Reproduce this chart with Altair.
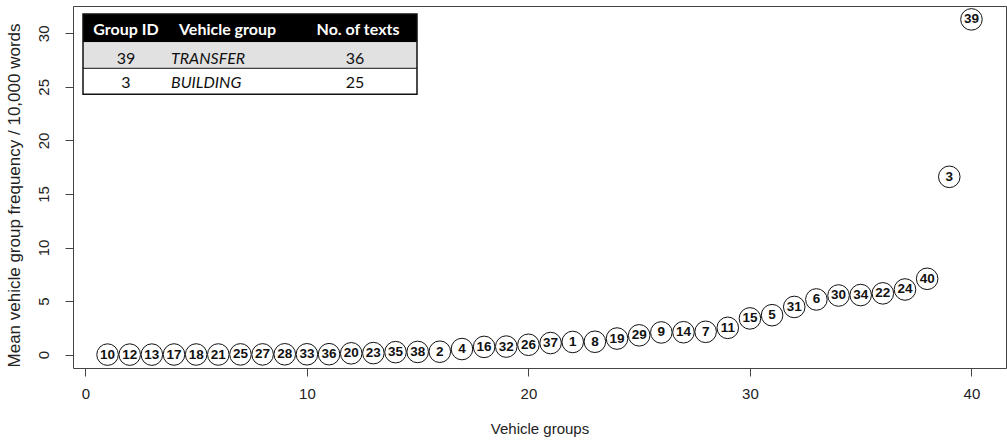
import altair as alt
import pandas as pd

# Vehicle groups ranked by mean frequency (rank 1 = lowest)
ranks = list(range(1, 41))
group_ids = [10, 12, 13, 17, 18, 21, 25, 27, 28, 33, 36, 20, 23, 35, 38, 2, 4, 16, 32, 26,
             37, 1, 8, 19, 29, 9, 14, 7, 11, 15, 5, 31, 6, 30, 34, 22, 24, 40, 3, 39]
mean_freq = [0.0, 0.0, 0.0, 0.01, 0.01, 0.01, 0.02, 0.02, 0.03, 0.03, 0.04, 0.12, 0.14, 0.23,
             0.25, 0.27, 0.52, 0.72, 0.75, 0.92, 1.08, 1.18, 1.2, 1.5, 1.8, 2.07, 2.09, 2.13,
             2.5, 3.38, 3.68, 4.45, 5.15, 5.52, 5.56, 5.72, 6.08, 7.08, 16.6, 31.3]

# Inset table contents
table_header = ["Group ID", "Vehicle group", "No. of texts"]
table_ids = ["39", "3"]
table_groups = ["TRANSFER", "BUILDING"]
table_counts = ["36", "25"]

x_ticks = [0, 10, 20, 30, 40]
y_ticks = [0, 5, 10, 15, 20, 25, 30]

W, H = 933, 362
AXIS_FONT = "Liberation Sans"
TABLE_FONT = "Lato"
INK = "#222222"
LINE = "#444444"

df = pd.DataFrame({"rank": ranks, "freq": mean_freq, "gid": [str(g) for g in group_ids]})

x_enc = alt.X(
    "rank:Q",
    scale=alt.Scale(domain=[-0.56, 41.56], nice=False, zero=False),
    axis=alt.Axis(
        values=x_ticks, grid=False, domain=False, tickSize=8, tickColor=LINE,
        labelFont=AXIS_FONT, labelFontSize=15, labelColor=INK, labelPadding=17,
        labelBaseline="middle", labelFlush=False, labelOverlap=False,
        title="Vehicle groups", titleFont=AXIS_FONT, titleFontSize=15,
        titleFontWeight="normal", titleColor=INK, titleX=W / 2, titleY=60,
        titleBaseline="middle", titleAlign="center",
    ),
)
y_enc = alt.Y(
    "freq:Q",
    scale=alt.Scale(domain=[-1.25, 32.55], nice=False, zero=False),
    axis=alt.Axis(
        values=y_ticks, grid=False, domain=False, tickSize=8, tickColor=LINE,
        labelFont=AXIS_FONT, labelFontSize=15, labelColor=INK, labelAngle=270,
        labelAlign="center", labelBaseline="middle", labelPadding=22,
        labelFlush=False, labelOverlap=False,
        title="Mean vehicle group frequency / 10,000 words", titleFont=AXIS_FONT,
        titleFontSize=17, titleFontWeight="normal", titleColor=INK, titleAngle=270,
        titleX=-59, titleY=H / 2 + 8, titleBaseline="middle", titleAlign="center",
    ),
)

base = alt.Chart(df).encode(x=x_enc, y=y_enc)
circles = base.mark_circle(size=465, color="white", stroke="#111111",
                           strokeWidth=1, opacity=1)
labels = base.mark_text(font=AXIS_FONT, fontWeight="bold", fontSize=13.5,
                        color="#111111", align="center", baseline="middle").encode(
    text="gid:N")

# ---- inset table (pixel layout inside the plot area) ----
one = pd.DataFrame({"k": [0]})
TX0, TX1 = 10, 344
ROW_Y = [8, 36.3, 62.3, 88.3]


def cell_rect(y0, y1, fill):
    return alt.Chart(one).mark_rect(fill=fill, strokeWidth=0).encode(
        x=alt.value(TX0), x2=alt.value(TX1), y=alt.value(y0), y2=alt.value(y1))


def hline(y):
    return alt.Chart(one).mark_rule(color="#111111", strokeWidth=1).encode(
        x=alt.value(TX0), x2=alt.value(TX1), y=alt.value(y))


def cell_text(text, x, y, align, color="#111111", weight="normal", style="normal"):
    return alt.Chart(pd.DataFrame({"t": [text]})).mark_text(
        font=TABLE_FONT, fontSize=16, color=color, fontWeight=weight,
        fontStyle=style, align=align, baseline="middle").encode(
        x=alt.value(x), y=alt.value(y), text="t:N")


table_layers = [
    cell_rect(ROW_Y[0], ROW_Y[1], "#000000"),
    cell_rect(ROW_Y[1], ROW_Y[2], "#e1e1e1"),
    cell_rect(ROW_Y[2], ROW_Y[3], "#ffffff"),
    hline(ROW_Y[2]),
    alt.Chart(one).mark_rect(fill=None, stroke="#111111", strokeWidth=1.5).encode(
        x=alt.value(TX0), x2=alt.value(TX1), y=alt.value(ROW_Y[0]), y2=alt.value(ROW_Y[3])),
    cell_text(table_header[0], 53, 23.5, "center", "white", "bold"),
    cell_text(table_header[1], 106, 23.5, "left", "white", "bold"),
    cell_text(table_header[2], 285, 23.5, "center", "white", "bold"),
]
row_centers = [52.5, 77]
for i in range(len(table_ids)):
    yc = row_centers[i]
    table_layers += [
        cell_text(table_ids[i], 53, yc, "center"),
        cell_text(table_groups[i], 98, yc, "left", style="italic"),
        cell_text(table_counts[i], 282, yc, "center"),
    ]

chart = alt.layer(circles, labels, *table_layers).properties(
    width=W, height=H,
    autosize=alt.AutoSizeParams(type="none"),
    padding={"left": 73, "top": 6, "right": 1, "bottom": 74},
    background="white",
).configure_view(stroke=LINE, strokeWidth=1)

chart.save("out.html", embed_options={"renderer": "svg", "actions": False})
